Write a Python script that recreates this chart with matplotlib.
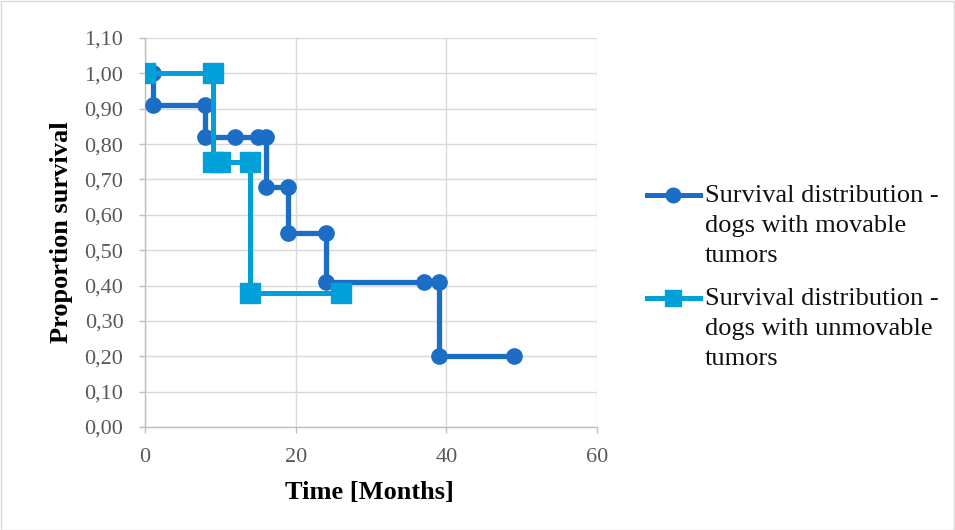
import matplotlib
matplotlib.use("Agg")
import matplotlib.pyplot as plt
from matplotlib.lines import Line2D
from matplotlib.patches import Rectangle

# Kaplan-Meier style survival steps
mov_time = [0, 1, 1, 8, 8, 12, 15, 16, 16, 19, 19, 24, 24, 37, 39, 39, 49]
mov_surv = [1.00, 1.00, 0.91, 0.91, 0.82, 0.82, 0.82, 0.82, 0.68, 0.68, 0.55, 0.55, 0.41, 0.41, 0.41, 0.20, 0.20]
unmov_time = [0, 9, 9, 10, 14, 14, 26]
unmov_surv = [1.00, 1.00, 0.75, 0.75, 0.75, 0.38, 0.38]

labels = ["Survival distribution -\ndogs with movable\ntumors",
          "Survival distribution -\ndogs with unmovable\ntumors"]
x_ticks = [0, 20, 40, 60]
y_ticks = [i / 10 for i in range(12)]

c_mov = "#1c6dc6"
c_unmov = "#02a0d8"
serif = "Liberation Serif"
plt.rcParams['font.family'] = [serif, 'DejaVu Serif']

W, H = 955, 530
fig = plt.figure(figsize=(W / 100, H / 100), dpi=100)
ax = fig.add_axes([145 / W, 1 - 427 / H, 452 / W, 389 / H])

ax.plot(mov_time, mov_surv, color=c_mov, lw=3.8, marker="o", ms=11, zorder=3)
ax.plot(unmov_time, unmov_surv, color=c_unmov, lw=3.6, marker="s", ms=14.5, zorder=4)

ax.set_xlim(0, 60)
ax.set_ylim(0, 1.10)
ax.set_xticks(x_ticks)
ax.set_yticks(y_ticks)
ax.set_yticklabels([f"{v:.2f}".replace(".", ",") for v in y_ticks])
ax.grid(True, color="#d9d9d9", lw=1.0, zorder=0)
ax.set_axisbelow(True)
for s in ["top", "right"]:
    ax.spines[s].set_visible(False)
for s in ["left", "bottom"]:
    ax.spines[s].set_color("#bfbfbf")
    ax.spines[s].set_linewidth(1.0)
ax.tick_params(axis="both", colors="#bfbfbf", length=4, width=1.0, labelsize=16, labelcolor="#595959")
ax.tick_params(axis="x", pad=11)
ax.tick_params(axis="y", pad=11.5)

ax.set_xlabel("Time [Months]", fontsize=19, fontweight="bold", color="black")
ax.xaxis.set_label_coords(0.497, -0.138)
ax.set_ylabel("Proportion survival", fontsize=19, fontweight="bold", color="black", va="center")
ax.yaxis.set_label_coords(-0.184, 0.5)

# legend drawn by hand so the handle sits on the first text line
entries = [(c_mov, "o", 10.5, 195), (c_unmov, "s", 12, 298)]
for (col, mk, ms, y0), lab in zip(entries, labels):
    yf = 1 - y0 / H
    fig.add_artist(Line2D([647 / W, 700 / W], [yf, yf], color=col, lw=3.6))
    fig.add_artist(Line2D([673 / W], [yf], color=col, marker=mk, ms=ms, lw=0))
    for i, line in enumerate(lab.split("\n")):
        fig.text(705 / W, 1 - (y0 + 7 + i * 30) / H, line, fontsize=19,
                 va="baseline", ha="left", color="#111111")

fig.add_artist(Rectangle((0.5 / W, 0.5 / H), 1 - 1.5 / W, 1 - 1.5 / H, transform=fig.transFigure,
                         fill=False, edgecolor="#d9d9d9", lw=1.0))

fig.savefig("out.png", dpi=100, facecolor="white")
